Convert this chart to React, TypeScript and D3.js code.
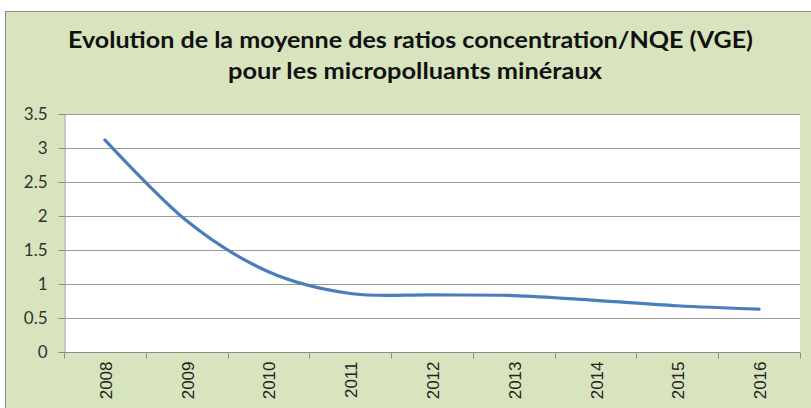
import React, { useEffect, useRef } from 'react';
import * as d3 from 'd3';

const YEARS = ['2008', '2009', '2010', '2011', '2012', '2013', '2014', '2015', '2016'];
const RATIOS = [3.12, 1.93, 1.18, 0.86, 0.84, 0.83, 0.76, 0.68, 0.63];
const Y_TICKS = [0, 0.5, 1, 1.5, 2, 2.5, 3, 3.5];
const TITLE_LINES = [
  'Evolution de la moyenne des ratios concentration/NQE (VGE)',
  'pour les micropolluants minéraux',
];

const W = 811;
const H = 408;

const App = () => {
  const svgRef = useRef<SVGSVGElement>(null);

  useEffect(() => {
    const svg = d3.select(svgRef.current);
    svg.selectAll('*').remove();

    const margin = { top: 114, right: 11, bottom: 56, left: 64 };
    const width = W - margin.left - margin.right;
    const height = H - margin.top - margin.bottom;

    // chart area
    svg.append('rect')
      .attr('x', 5.5)
      .attr('y', 11.5)
      .attr('width', W)
      .attr('height', H)
      .attr('fill', '#d7e4bd')
      .attr('stroke', '#8c8c8c')
      .attr('stroke-width', 1);

    const title = svg.append('g').attr('font-family', 'Lato, "Open Sans", sans-serif')
      .attr('font-weight', 700)
      .attr('fill', '#111');
    title.append('text')
      .attr('x', 410.5)
      .attr('y', 48)
      .attr('text-anchor', 'middle')
      .attr('font-size', 23)
      .attr('textLength', 685)
      .attr('lengthAdjust', 'spacingAndGlyphs')
      .text(TITLE_LINES[0]);
    title.append('text')
      .attr('x', 415)
      .attr('y', 79)
      .attr('text-anchor', 'middle')
      .attr('font-size', 23)
      .attr('textLength', 374)
      .attr('lengthAdjust', 'spacingAndGlyphs')
      .text(TITLE_LINES[1]);

    const g = svg.append('g')
      .attr('transform', `translate(${margin.left},${margin.top})`);

    const x = d3.scaleBand().domain(YEARS).range([0, width]).padding(0);
    const y = d3.scaleLinear().domain([0, 3.5]).range([height, 0]);

    g.append('rect')
      .attr('width', width)
      .attr('height', height)
      .attr('fill', '#fff');

    g.selectAll('.grid')
      .data(Y_TICKS.filter(d => d > 0))
      .enter()
      .append('line')
      .attr('class', 'grid')
      .attr('x1', 0)
      .attr('x2', width)
      .attr('y1', d => Math.round(y(d)) + 0.5)
      .attr('y2', d => Math.round(y(d)) + 0.5)
      .attr('stroke', '#9a9a9a')
      .attr('stroke-width', 1);

    const yAxis = g.append('g')
      .attr('transform', 'translate(0.5,0)')
      .call(d3.axisLeft(y).tickValues(Y_TICKS).tickSize(6).tickPadding(11).tickFormat(d3.format('')));
    yAxis.selectAll('line').attr('stroke', '#8c8c8c');
    yAxis.select('.domain').attr('stroke', '#8c8c8c');
    yAxis.selectAll('text')
      .attr('font-family', 'Lato, "Open Sans", sans-serif')
      .attr('font-size', 17)
      .attr('fill', '#333');

    const xAxis = g.append('g')
      .attr('transform', `translate(0,${Math.round(height) + 0.5})`);
    xAxis.append('line')
      .attr('x1', 0)
      .attr('x2', width)
      .attr('stroke', '#8c8c8c');
    xAxis.selectAll('.tick')
      .data(d3.range(YEARS.length + 1))
      .enter()
      .append('line')
      .attr('class', 'tick')
      .attr('x1', i => Math.round(i * x.step()) + 0.5)
      .attr('x2', i => Math.round(i * x.step()) + 0.5)
      .attr('y1', 0)
      .attr('y2', 6)
      .attr('stroke', '#8c8c8c');
    xAxis.selectAll('.lbl')
      .data(YEARS)
      .enter()
      .append('text')
      .attr('class', 'lbl')
      .attr('transform', d => `translate(${(x(d) ?? 0) + x.bandwidth() / 2 + 1},9) rotate(-90)`)
      .attr('text-anchor', 'end')
      .attr('dy', '0.35em')
      .attr('font-family', '"Liberation Sans", Arial, sans-serif')
      .attr('font-size', 17)
      .attr('fill', '#222')
      .text(d => d);

    const line = d3.line<number>()
      .x((_, i) => (x(YEARS[i]) ?? 0) + x.bandwidth() / 2)
      .y(d => y(d))
      .curve(d3.curveCardinal.tension(0));

    g.append('path')
      .datum(RATIOS)
      .attr('d', line)
      .attr('fill', 'none')
      .attr('stroke', '#4a7ebb')
      .attr('stroke-width', 3.2)
      .attr('stroke-linecap', 'round');
  }, []);

  return (
    <svg
      ref={svgRef}
      width={W}
      height={H}
      style={{ position: 'absolute', left: 0, top: 0, display: 'block', background: '#fff' }}
    />
  );
};

export default App;
